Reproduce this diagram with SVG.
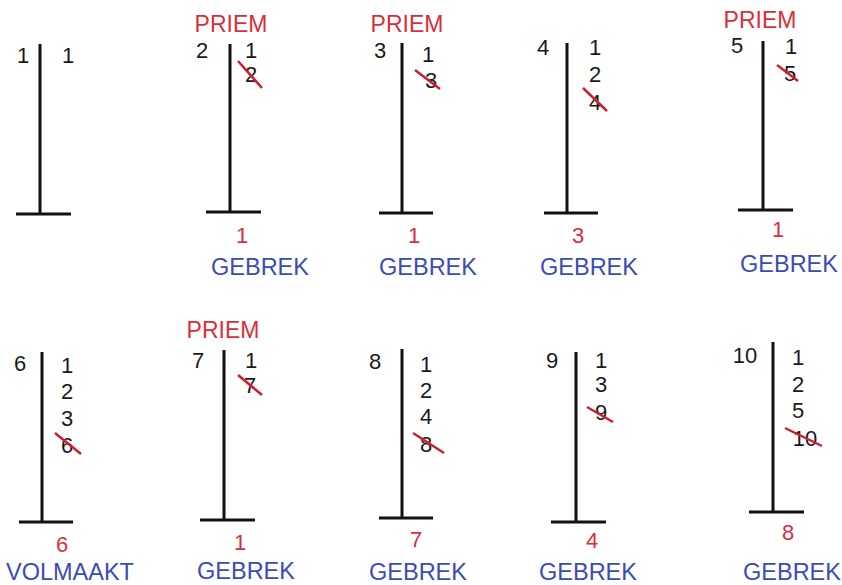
<svg xmlns="http://www.w3.org/2000/svg" width="842" height="585" viewBox="0 0 842 585">
<style>
text{font-family:"Liberation Sans",Arial,sans-serif;text-anchor:middle}
.n{font-size:22px;fill:#1a1a1a}
.r{font-size:22px;fill:#d8303a}
.p{font-size:23px;fill:#d8303a}
.g{font-size:23.5px;fill:#3a4cb4}
.t{stroke:#111;stroke-width:3;fill:none}
.s{stroke:#cc1f30;stroke-width:2.5;fill:none}
</style>
<rect width="842" height="585" fill="#fff"/>
<g id="n1">
<path class="t" d="M40 44V214M16 214H71"/>
<text class="n" x="23" y="63">1</text>
<text class="n" x="68" y="63">1</text>
</g>
<g id="n2">
<text class="p" x="231" y="32">PRIEM</text>
<path class="t" d="M230 44V212M206 212H261"/>
<text class="n" x="202" y="58">2</text>
<text class="n" x="251" y="58">1</text>
<text class="n" x="251" y="82">2</text>
<path class="s" d="M238 61L262 88"/>
<text class="r" x="242" y="243">1</text>
<text class="g" x="260" y="275">GEBREK</text>
</g>
<g id="n3">
<text class="p" x="407" y="32">PRIEM</text>
<path class="t" d="M402 43V213M379 213H433"/>
<text class="n" x="380" y="58">3</text>
<text class="n" x="428" y="62">1</text>
<text class="n" x="431" y="88">3</text>
<path class="s" d="M415 70L440 89"/>
<text class="r" x="414" y="243">1</text>
<text class="g" x="428" y="275">GEBREK</text>
</g>
<g id="n4">
<path class="t" d="M567 43V213M544 213H598"/>
<text class="n" x="543" y="55">4</text>
<text class="n" x="595" y="55">1</text>
<text class="n" x="595" y="82">2</text>
<text class="n" x="595" y="110">4</text>
<path class="s" d="M583 88L607 111"/>
<text class="r" x="578" y="243">3</text>
<text class="g" x="589" y="275">GEBREK</text>
</g>
<g id="n5">
<text class="p" x="760" y="28">PRIEM</text>
<path class="t" d="M763 41V210M738 210H793"/>
<text class="n" x="737" y="53">5</text>
<text class="n" x="791" y="54">1</text>
<text class="n" x="790" y="81">5</text>
<path class="s" d="M777 65L798 81"/>
<text class="r" x="778" y="237">1</text>
<text class="g" x="789" y="272">GEBREK</text>
</g>
<g id="n6">
<path class="t" d="M42 352V522M19 522H73"/>
<text class="n" x="20" y="371">6</text>
<text class="n" x="67" y="373">1</text>
<text class="n" x="67" y="399">2</text>
<text class="n" x="67" y="426">3</text>
<text class="n" x="67" y="453">6</text>
<path class="s" d="M55 433L81 454"/>
<text class="r" x="62" y="552">6</text>
<text class="g" x="70" y="580">VOLMAAKT</text>
</g>
<g id="n7">
<text class="p" x="223" y="338">PRIEM</text>
<path class="t" d="M224 350V520M200 520H255"/>
<text class="n" x="198" y="368">7</text>
<text class="n" x="251" y="368">1</text>
<text class="n" x="250" y="393">7</text>
<path class="s" d="M238 375L262 395"/>
<text class="r" x="240" y="550">1</text>
<text class="g" x="246" y="579">GEBREK</text>
</g>
<g id="n8">
<path class="t" d="M402 349V518M379 518H433"/>
<text class="n" x="375" y="369">8</text>
<text class="n" x="426" y="372">1</text>
<text class="n" x="426" y="398">2</text>
<text class="n" x="426" y="424">4</text>
<text class="n" x="426" y="452">8</text>
<path class="s" d="M413 433L444 453"/>
<text class="r" x="416" y="547">7</text>
<text class="g" x="418" y="580">GEBREK</text>
</g>
<g id="n9">
<path class="t" d="M576 352V522M551 522H606"/>
<text class="n" x="552" y="368">9</text>
<text class="n" x="601" y="368">1</text>
<text class="n" x="601" y="392">3</text>
<text class="n" x="601" y="420">9</text>
<path class="s" d="M587 407L613 422"/>
<text class="r" x="592" y="548">4</text>
<text class="g" x="588" y="580">GEBREK</text>
</g>
<g id="n10">
<path class="t" d="M773 342V512M749 512H804"/>
<text class="n" x="745" y="363">10</text>
<text class="n" x="798" y="365">1</text>
<text class="n" x="798" y="392">2</text>
<text class="n" x="798" y="418">5</text>
<text class="n" x="805" y="446">10</text>
<path class="s" d="M785 428L822 446"/>
<text class="r" x="788" y="540">8</text>
<text class="g" x="792" y="580">GEBREK</text>
</g>
<g id="connectors"/>
</svg>
